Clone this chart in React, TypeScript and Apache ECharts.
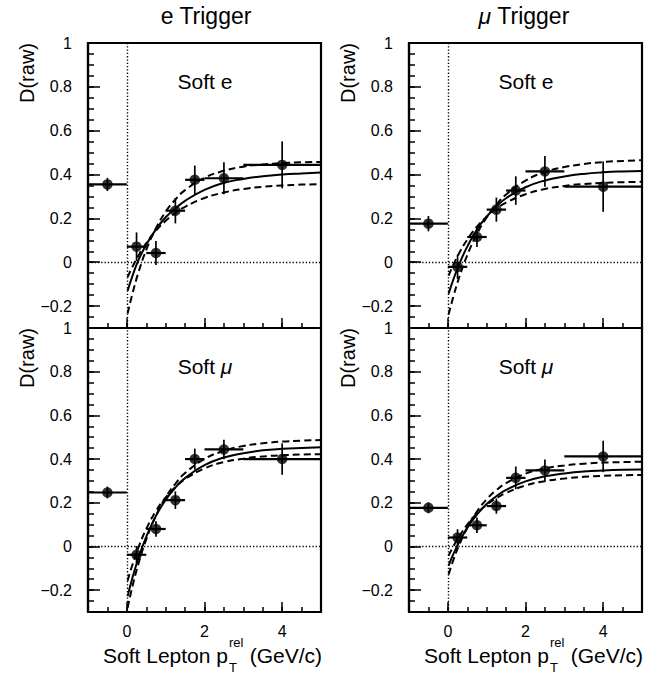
import React, { useEffect, useRef } from "react";
import * as echarts from "echarts";

const FONT = "'Liberation Sans', Arial, Helvetica, sans-serif";

// bin centres and edges (GeV/c)
const binX = [-0.5, 0.25, 0.75, 1.25, 1.75, 2.5, 4.0];
const binLo = [-1, 0, 0.5, 1.0, 1.5, 2.0, 3.0];
const binHi = [0, 0.5, 1.0, 1.5, 2.0, 3.0, 5.0];

// measured D(raw)
const eTrigSoftE = [0.355, 0.071, 0.042, 0.235, 0.376, 0.383, 0.444];
const eTrigSoftEErr = [0.03, 0.065, 0.055, 0.058, 0.065, 0.073, 0.107];
const muTrigSoftE = [0.176, -0.021, 0.115, 0.24, 0.327, 0.414, 0.345];
const muTrigSoftEErr = [0.035, 0.055, 0.045, 0.055, 0.065, 0.07, 0.115];
const eTrigSoftMu = [0.247, -0.038, 0.08, 0.212, 0.4, 0.444, 0.4];
const eTrigSoftMuErr = [0.027, 0.04, 0.035, 0.04, 0.048, 0.045, 0.072];
const muTrigSoftMu = [0.177, 0.041, 0.097, 0.185, 0.314, 0.348, 0.412];
const muTrigSoftMuErr = [0.025, 0.038, 0.035, 0.035, 0.052, 0.05, 0.072];

// fit curves
const fitX = [0.02, 0.15, 0.3, 0.5, 0.75, 1.0, 1.25, 1.5, 2.0, 2.5, 3.0, 3.5, 4.0, 4.5, 5.0];
const eSoftEFit = [-0.13, -0.06, 0.01, 0.08, 0.15, 0.205, 0.245, 0.28, 0.33, 0.362, 0.38, 0.392, 0.4, 0.405, 0.409];
const eSoftEHi = [-0.234, -0.14, -0.046, 0.056, 0.155, 0.23, 0.286, 0.329, 0.385, 0.417, 0.436, 0.446, 0.452, 0.456, 0.457];
const eSoftELo = [-0.068, -0.019, 0.031, 0.087, 0.144, 0.189, 0.225, 0.253, 0.293, 0.318, 0.334, 0.344, 0.35, 0.354, 0.356];
const muSoftEFit = [-0.144, -0.075, -0.006, 0.071, 0.149, 0.208, 0.255, 0.292, 0.342, 0.373, 0.391, 0.403, 0.41, 0.414, 0.416];
const muSoftEHi = [-0.238, -0.152, -0.065, 0.032, 0.129, 0.204, 0.263, 0.309, 0.372, 0.411, 0.434, 0.448, 0.457, 0.462, 0.465];
const muSoftELo = [-0.061, -0.009, 0.044, 0.103, 0.162, 0.208, 0.244, 0.272, 0.31, 0.334, 0.348, 0.357, 0.362, 0.365, 0.367];
const eSoftMuFit = [-0.228, -0.14, -0.053, 0.044, 0.14, 0.213, 0.27, 0.313, 0.372, 0.407, 0.427, 0.44, 0.447, 0.451, 0.454];
const eSoftMuHi = [-0.281, -0.179, -0.079, 0.032, 0.141, 0.224, 0.287, 0.336, 0.4, 0.438, 0.46, 0.472, 0.48, 0.484, 0.487];
const eSoftMuLo = [-0.157, -0.08, -0.004, 0.08, 0.162, 0.224, 0.272, 0.308, 0.357, 0.386, 0.402, 0.412, 0.417, 0.421, 0.422];
const muSoftMuFit = [-0.088, -0.032, 0.023, 0.085, 0.146, 0.194, 0.23, 0.259, 0.298, 0.321, 0.334, 0.343, 0.348, 0.351, 0.352];
const muSoftMuHi = [-0.128, -0.058, 0.01, 0.086, 0.16, 0.216, 0.258, 0.29, 0.333, 0.357, 0.371, 0.379, 0.384, 0.386, 0.388];
const muSoftMuLo = [-0.042, 0.003, 0.048, 0.1, 0.151, 0.19, 0.221, 0.245, 0.279, 0.299, 0.311, 0.319, 0.323, 0.326, 0.327];

const xMajorTicks = [0, 2, 4];
const yMajorTicks = [-0.2, 0, 0.2, 0.4, 0.6, 0.8, 1];

const panels = [
  { y: eTrigSoftE, err: eTrigSoftEErr, fit: eSoftEFit, hi: eSoftEHi, lo: eSoftELo, left: 88, top: 43, height: 285, bottom: false },
  { y: muTrigSoftE, err: muTrigSoftEErr, fit: muSoftEFit, hi: muSoftEHi, lo: muSoftELo, left: 409, top: 43, height: 285, bottom: false },
  { y: eTrigSoftMu, err: eTrigSoftMuErr, fit: eSoftMuFit, hi: eSoftMuHi, lo: eSoftMuLo, left: 88, top: 328, height: 284, bottom: true },
  { y: muTrigSoftMu, err: muTrigSoftMuErr, fit: muSoftMuFit, hi: muSoftMuHi, lo: muSoftMuLo, left: 409, top: 328, height: 284, bottom: true },
];

const BLACK = "#000";

function buildOption() {
  const grid: any[] = [];
  const xAxis: any[] = [];
  const yAxis: any[] = [];
  const series: any[] = [];
  const graphic: any[] = [];

  panels.forEach((p, i) => {
    grid.push({
      left: p.left, top: p.top, width: 233, height: p.height,
      show: true, borderColor: BLACK, borderWidth: 2.2, backgroundColor: "transparent",
    });
    // minor x ticks
    xAxis.push({
      type: "value", gridIndex: i, min: -1, max: 5, interval: 0.5, position: "bottom",
      axisLine: { show: true, onZero: false, lineStyle: { color: BLACK, width: 2.2 } },
      axisTick: { show: true, inside: true, length: 5, lineStyle: { color: BLACK, width: 1.5 } },
      axisLabel: { show: false }, splitLine: { show: false },
    });
    // major x ticks + labels
    xAxis.push({
      type: "value", gridIndex: i, min: -1, max: 5, interval: 0.5, position: "bottom",
      axisLine: { show: false, onZero: false },
      axisTick: { show: true, inside: true, length: 10, customValues: xMajorTicks, lineStyle: { color: BLACK, width: 1.5 } },
      axisLabel: {
        show: p.bottom, customValues: xMajorTicks, margin: 11, fontSize: 16, color: BLACK, fontFamily: FONT,
      },
      splitLine: { show: false },
    });
    // minor y ticks
    yAxis.push({
      type: "value", gridIndex: i, min: -0.3, max: 1, interval: 0.05, position: "left",
      axisLine: { show: true, onZero: false, lineStyle: { color: BLACK, width: 2.2 } },
      axisTick: { show: true, inside: true, length: 6, lineStyle: { color: BLACK, width: 1.5 } },
      axisLabel: { show: false }, splitLine: { show: false },
    });
    // major y ticks + labels
    yAxis.push({
      type: "value", gridIndex: i, min: -0.3, max: 1, interval: 0.05, position: "left",
      axisLine: { show: false, onZero: false },
      axisTick: { show: true, inside: true, length: 12, customValues: yMajorTicks, lineStyle: { color: BLACK, width: 1.5 } },
      axisLabel: {
        show: true, customValues: yMajorTicks, margin: 16, fontSize: 16, color: BLACK, fontFamily: FONT,
        formatter: (v: number) => (v < 0 ? "\u2212" + String(Math.abs(v)) : String(v)),
      },
      splitLine: { show: false },
    });

    const xi = 2 * i + 1;
    const yi = 2 * i + 1;

    const errData = binX.map((x, k) => [x, p.y[k], binLo[k], binHi[k], p.err[k]]);
    series.push({
      type: "custom", xAxisIndex: xi, yAxisIndex: yi, data: errData, encode: { x: 0, y: 1 }, z: 3,
      renderItem: (_params: any, api: any) => {
        const x = api.value(0), y = api.value(1), xl = api.value(2), xh = api.value(3), e = api.value(4);
        const pL = api.coord([xl, y]);
        const pH = api.coord([xh, y]);
        const pT = api.coord([x, y + e]);
        const pB = api.coord([x, y - e]);
        return {
          type: "group",
          children: [
            { type: "line", shape: { x1: pL[0], y1: pL[1], x2: pH[0], y2: pH[1] }, style: { stroke: BLACK, lineWidth: 2.2 } },
            { type: "line", shape: { x1: pT[0], y1: pT[1], x2: pB[0], y2: pB[1] }, style: { stroke: BLACK, lineWidth: 1.7 } },
          ],
        };
      },
    });

    series.push({
      type: "scatter", xAxisIndex: xi, yAxisIndex: yi, z: 4,
      data: binX.map((x, k) => [x, p.y[k]]),
      symbol: "circle", symbolSize: 10.5, itemStyle: { color: BLACK },
      markLine: {
        silent: true, symbol: ["none", "none"], label: { show: false },
        lineStyle: { color: BLACK, type: [1.3, 2], width: 1.4 },
        data: [{ yAxis: 0 }, { xAxis: 0 }],
      },
    });

    const curve = (vals: number[], dashed: boolean) => ({
      type: "line", xAxisIndex: xi, yAxisIndex: yi, z: 2, smooth: true, showSymbol: false, symbol: "none",
      clip: true, data: fitX.map((x, k) => [x, vals[k]]),
      lineStyle: { color: BLACK, width: 2, type: dashed ? [7, 4] : "solid" },
    });
    series.push(curve(p.fit, false));
    series.push(curve(p.hi, true));
    series.push(curve(p.lo, true));

    // y axis name
    graphic.push({
      type: "text", x: p.left - 61, y: p.top, rotation: Math.PI / 2,
      style: { text: "D(raw)", fontSize: 20, fontFamily: FONT, fill: BLACK, align: "right", verticalAlign: "middle" },
    });
    // panel label
    graphic.push({
      type: "text", x: p.left + 117, y: p.top + 38,
      style: {
        text: i < 2 ? "Soft e" : "Soft {i|\u03bc}",
        fontSize: 21, fontFamily: FONT, fill: BLACK, align: "center", verticalAlign: "middle",
        rich: { i: { fontSize: 21, fontFamily: FONT, fontStyle: "italic", fill: BLACK } },
      },
    });
    if (p.bottom) {
      const r = p.left + 233;
      graphic.push({
        type: "text", x: r - 93, y: 655,
        style: { text: "Soft Lepton p", fontSize: 21, fontFamily: FONT, fill: BLACK, align: "right", verticalAlign: "middle" },
      });
      graphic.push({
        type: "text", x: r - 92, y: 642,
        style: { text: "rel", fontSize: 13, fontFamily: FONT, fill: BLACK, align: "left", verticalAlign: "middle" },
      });
      graphic.push({
        type: "text", x: r - 92, y: 667,
        style: { text: "T", fontSize: 13, fontFamily: FONT, fill: BLACK, align: "left", verticalAlign: "middle" },
      });
      graphic.push({
        type: "text", x: r + 1, y: 655,
        style: { text: "(GeV/c)", fontSize: 21, fontFamily: FONT, fill: BLACK, align: "right", verticalAlign: "middle" },
      });
    }
  });

  graphic.push({
    type: "text", x: 206, y: 16,
    style: { text: "e Trigger", fontSize: 23, fontFamily: FONT, fill: BLACK, align: "center", verticalAlign: "middle" },
  });
  graphic.push({
    type: "text", x: 524, y: 16,
    style: {
      text: "{i|\u03bc} Trigger", fontSize: 23, fontFamily: FONT, fill: BLACK, align: "center", verticalAlign: "middle",
      rich: { i: { fontSize: 23, fontFamily: FONT, fontStyle: "italic", fill: BLACK } },
    },
  });

  return {
    animation: false,
    backgroundColor: "#fff",
    grid, xAxis, yAxis, series, graphic,
  };
}

export default function App() {
  const ref = useRef<HTMLDivElement>(null);
  useEffect(() => {
    document.body.style.margin = "0";
    if (!ref.current) return;
    const chart = echarts.init(ref.current, undefined, { renderer: "svg" });
    chart.setOption(buildOption() as any);
    return () => chart.dispose();
  }, []);
  return <div ref={ref} style={{ width: 668, height: 677 }} />;
}
